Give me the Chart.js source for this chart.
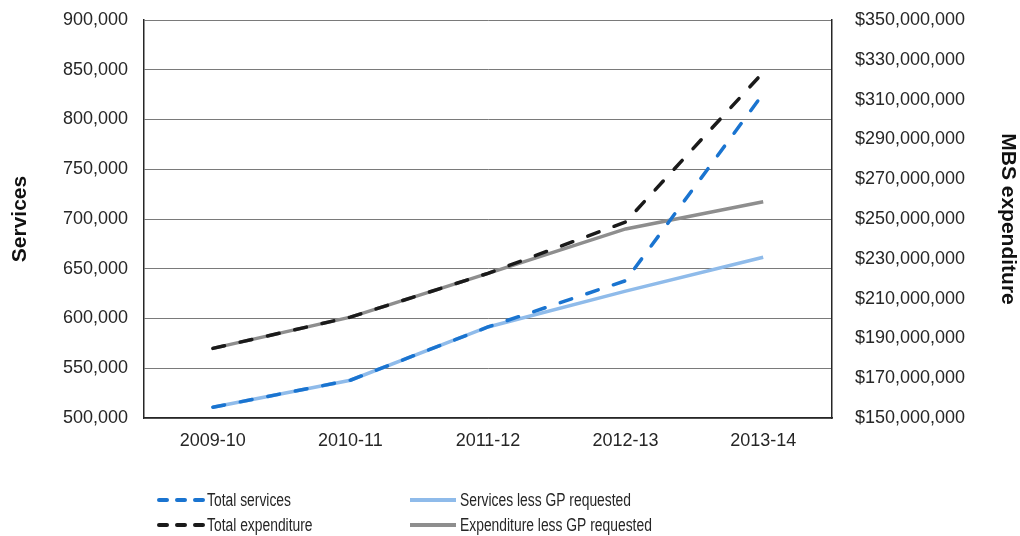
<!DOCTYPE html>
<html>
<head>
<meta charset="utf-8">
<title>Services and MBS expenditure</title>
<script src="https://cdn.jsdelivr.net/npm/chart.js@4/dist/chart.umd.min.js"></script>
<style>
  html, body { margin: 0; padding: 0; background: #fff; }
  canvas { display: block; }
</style>
</head>
<body>
<canvas id="chart" width="1020" height="536"></canvas>
<script>
"use strict";

var years = ["2009-10", "2010-11", "2011-12", "2012-13", "2013-14"];

var totalServices = [510800, 538000, 591500, 638000, 826000];
var servicesLessGP = [510800, 538000, 591500, 627500, 661500];
var totalExpenditure = [185000000, 200700000, 222700000, 248500000, 323700000];
var expenditureLessGP = [185000000, 200700000, 222700000, 245000000, 258700000];

var servicesTicks = { min: 500000, max: 900000, step: 50000 };
var expenditureTicks = { min: 150000000, max: 350000000, step: 20000000 };

var tickFont = { family: "'Liberation Sans', Arial, sans-serif", size: 18 };
var titleFont = { family: "'Liberation Sans', Arial, sans-serif", size: 21, weight: "bold" };
var textColor = "#262626";

// fixed axis widths; drop the label overhang so the plot keeps its top edge
function fitSide(width) {
  return function(scale) {
    scale.width = width;
    scale.paddingTop = 0;
    scale.paddingBottom = 0;
  };
}

// two-column legend under the axis, like the original
var columnLegend = {
  id: "columnLegend",
  afterDraw: function(chart) {
    var ctx = chart.ctx;
    var slots = [
      { x: 157, y: 500 }, { x: 157, y: 525 },
      { x: 410, y: 500 }, { x: 410, y: 525 }
    ];
    chart.data.datasets.forEach(function(ds, i) {
      var s = slots[i];
      ctx.save();
      ctx.strokeStyle = ds.borderColor;
      ctx.lineWidth = 4;
      ctx.lineCap = ds.borderDash ? "round" : "butt";
      ctx.setLineDash(ds.borderDash ? [8, 10] : []);
      ctx.beginPath();
      ctx.moveTo(s.x + (ds.borderDash ? 2 : 0), s.y);
      ctx.lineTo(s.x + 46, s.y);
      ctx.stroke();
      ctx.setLineDash([]);
      // the source legend uses a condensed face, so squeeze the text a bit
      ctx.translate(s.x + 50, s.y);
      ctx.scale(0.77, 1);
      ctx.fillStyle = textColor;
      ctx.font = "18px 'Liberation Sans', Arial, sans-serif";
      ctx.textBaseline = "middle";
      ctx.textAlign = "left";
      ctx.fillText(ds.label, 0, 1);
      ctx.restore();
    });
  }
};

var ctx = document.getElementById("chart");

var chart = new Chart(ctx, {
  type: "line",
  data: {
    labels: years,
    datasets: [{
      label: "Total services",
      data: totalServices,
      yAxisID: "y",
      borderColor: "#1a74d0",
      borderDash: [12, 16],
      borderCapStyle: "round"
    }, {
      label: "Total expenditure",
      data: totalExpenditure,
      yAxisID: "y1",
      borderColor: "#1a1a1a",
      borderDash: [12, 16],
      borderCapStyle: "round"
    }, {
      label: "Services less GP requested",
      data: servicesLessGP,
      yAxisID: "y",
      borderColor: "#8fbbea"
    }, {
      label: "Expenditure less GP requested",
      data: expenditureLessGP,
      yAxisID: "y1",
      borderColor: "#8e8e8e"
    }]
  },
  options: {
    responsive: false,
    animation: false,
    devicePixelRatio: 1,
    layout: { padding: { top: 20, bottom: 78, left: 0, right: 0 } },
    elements: {
      line: { borderWidth: 3.5, tension: 0, fill: false },
      point: { radius: 0, hoverRadius: 0 }
    },
    plugins: {
      legend: { display: false },
      tooltip: { enabled: false }
    },
    scales: {
      x: {
        offset: true,
        grid: { display: false, drawTicks: false },
        border: { display: true, color: "#262626", width: 1.5 },
        ticks: { color: textColor, font: tickFont, padding: 12, maxRotation: 0 },
        afterFit: function(scale) { scale.height = 40; }
      },
      y: {
        position: "left",
        min: servicesTicks.min,
        max: servicesTicks.max,
        grid: { color: "#7a7a7a", lineWidth: 1, drawTicks: false },
        border: { display: true, color: "#262626", width: 1.5 },
        ticks: {
          stepSize: servicesTicks.step,
          color: textColor,
          font: tickFont,
          padding: 16,
          callback: function(v) { return v.toLocaleString("en-US"); }
        },
        title: { display: true, text: "Services", color: "#111", font: titleFont, padding: { top: 8, bottom: 0 } },
        afterFit: fitSide(144)
      },
      y1: {
        position: "right",
        min: expenditureTicks.min,
        max: expenditureTicks.max,
        grid: { drawOnChartArea: false, drawTicks: false },
        border: { display: true, color: "#262626", width: 1.5 },
        ticks: {
          stepSize: expenditureTicks.step,
          color: textColor,
          font: tickFont,
          padding: 23,
          callback: function(v) { return "$" + v.toLocaleString("en-US"); }
        },
        title: { display: true, text: "MBS expenditure", color: "#111", font: titleFont, padding: { top: 0, bottom: 0 } },
        afterFit: fitSide(188)
      }
    }
  },
  plugins: [columnLegend]
});
</script>
</body>
</html>
